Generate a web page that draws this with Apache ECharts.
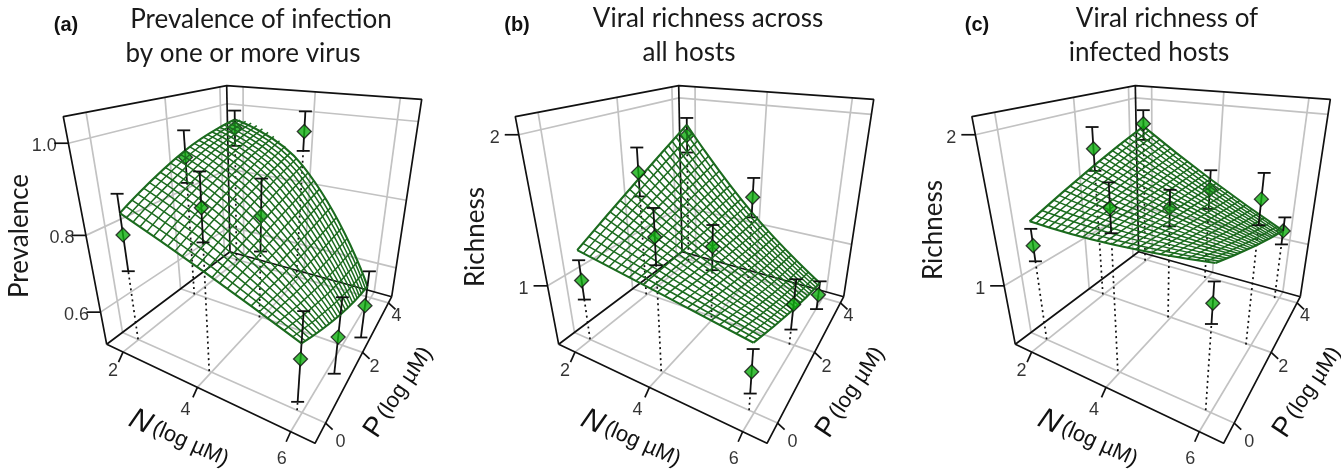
<!DOCTYPE html>
<html><head><meta charset="utf-8">
<style>html,body{margin:0;padding:0;background:#fff}#c{width:1341px;height:473px}</style>
<script src="https://cdn.jsdelivr.net/npm/echarts@6/dist/echarts.min.js"></script>
</head><body><div id="c"></div>
<script>
// --- Data ---
const nTicks = [2, 4, 6];
const pTicks = [0, 2, 4];
const nDesign = [1.985, 3.943, 5.9];
const pDesign = [0, 1.965, 3.93];
const meshN = [1.985,2.148,2.311,2.474,2.637,2.801,2.964,3.127,3.29,3.453,3.616,3.779,3.943,4.106,4.269,4.432,4.595,4.758,4.921,5.084,5.248,5.411,5.574,5.737,5.9];
const meshP = [0,.164,.328,.491,.655,.819,.983,1.146,1.31,1.474,1.638,1.801,1.965,2.129,2.293,2.456,2.62,2.784,2.948,3.111,3.275,3.439,3.603,3.766,3.93];

// points in order N2P0,N4P0,N6P0, N2P2,N4P2,N6P2, N2P4,N4P4,N6P4
const prevMean  = [.792,.900,.637,.911,.798,.528,.942,.955,.479];
const prevUpper = [.888,.970,.746,.978,.891,.642,.991,1.007,.593];
const prevLower = [.700,.828,.528,.844,.703,.413,.890,.903,.365];
const allMean   = [1.008,1.486,.806,1.578,1.128,.854,1.721,1.284,.546];
const allUpper  = [1.163,1.660,.966,1.765,1.297,1.051,1.866,1.449,.675];
const allLower  = [.855,1.305,.644,1.391,.934,.645,1.574,1.104,.403];
const infMean   = [1.270,1.660,1.262,1.756,1.426,1.609,1.819,1.351,1.127];
const infUpper  = [1.390,1.805,1.392,1.911,1.556,1.772,1.929,1.513,1.240];
const infLower  = [1.155,1.509,1.132,1.591,1.287,1.438,1.683,1.180,1.011];

// surface heights read along three sections in P (at N=2,4,6) and three in N (at P=0,2,4)
const prevN2 = [.844,.853,.861,.869,.877,.885,.892,.899,.905,.911,.917,.923,.928,.933,.938,.942,.946,.949,.953,.956,.958,.961,.963,.965,.966];
const prevN4 = [.762,.767,.772,.777,.781,.786,.791,.795,.800,.804,.809,.813,.817,.821,.826,.830,.834,.838,.842,.845,.849,.853,.857,.860,.863];
const prevN6 = [.674,.666,.659,.651,.644,.637,.630,.624,.618,.611,.605,.599,.594,.589,.583,.579,.574,.569,.565,.561,.557,.553,.550,.547,.544];
const prevP0 = [.844,.837,.831,.824,.817,.811,.804,.797,.790,.783,.776,.769,.762,.755,.748,.741,.734,.726,.719,.712,.704,.697,.690,.682,.674];
const prevP2 = [.928,.923,.917,.911,.903,.895,.886,.877,.866,.855,.843,.831,.817,.803,.788,.772,.755,.738,.719,.701,.681,.660,.639,.617,.594];
const prevP4 = [.966,.966,.964,.961,.956,.949,.941,.932,.922,.909,.895,.880,.863,.845,.825,.804,.781,.757,.730,.703,.675,.644,.612,.579,.544];

const allN2 = [1.238,1.263,1.288,1.312,1.337,1.361,1.386,1.410,1.434,1.458,1.482,1.506,1.530,1.554,1.578,1.601,1.625,1.648,1.672,1.695,1.718,1.741,1.764,1.787,1.810];
const allN4 = [1.122,1.122,1.122,1.122,1.122,1.122,1.122,1.123,1.123,1.124,1.125,1.126,1.127,1.128,1.130,1.131,1.133,1.134,1.136,1.138,1.140,1.142,1.144,1.146,1.149];
const allN6 = [1.009,.991,.973,.955,.937,.920,.903,.887,.871,.856,.840,.825,.810,.796,.782,.768,.755,.741,.729,.716,.704,.693,.681,.670,.659];
const allP0 = [1.238,1.228,1.218,1.209,1.199,1.189,1.180,1.170,1.160,1.151,1.141,1.132,1.122,1.113,1.103,1.093,1.084,1.075,1.065,1.056,1.046,1.037,1.028,1.018,1.009];
const allP2 = [1.530,1.493,1.457,1.421,1.386,1.352,1.318,1.284,1.252,1.220,1.188,1.157,1.127,1.097,1.068,1.039,1.012,.985,.958,.932,.906,.881,.857,.833,.810];
const allP4 = [1.810,1.748,1.688,1.629,1.570,1.514,1.458,1.404,1.350,1.298,1.247,1.198,1.149,1.102,1.056,1.011,.967,.924,.883,.843,.803,.766,.729,.693,.659];

const infN2 = [1.442,1.459,1.476,1.493,1.510,1.526,1.543,1.558,1.574,1.590,1.605,1.620,1.635,1.650,1.664,1.678,1.692,1.706,1.720,1.733,1.746,1.759,1.772,1.785,1.797];
const infN4 = [1.440,1.440,1.441,1.441,1.441,1.441,1.442,1.442,1.442,1.442,1.442,1.442,1.442,1.442,1.442,1.442,1.442,1.442,1.442,1.441,1.441,1.441,1.441,1.440,1.440];
const infN6 = [1.497,1.480,1.463,1.445,1.429,1.412,1.395,1.379,1.363,1.347,1.331,1.315,1.300,1.285,1.270,1.254,1.240,1.225,1.211,1.196,1.182,1.168,1.155,1.141,1.127];
const infP0 = [1.442,1.440,1.438,1.436,1.435,1.434,1.434,1.434,1.434,1.435,1.436,1.438,1.440,1.442,1.445,1.449,1.453,1.457,1.461,1.466,1.471,1.477,1.483,1.490,1.497];
const infP2 = [1.635,1.617,1.599,1.582,1.565,1.548,1.532,1.516,1.500,1.485,1.471,1.456,1.442,1.428,1.415,1.402,1.389,1.376,1.365,1.353,1.342,1.331,1.320,1.310,1.300];
const infP4 = [1.797,1.766,1.735,1.703,1.673,1.643,1.613,1.583,1.554,1.526,1.497,1.468,1.440,1.412,1.385,1.358,1.331,1.304,1.278,1.252,1.226,1.201,1.176,1.151,1.127];

// --- Panels ---
const panels = [
 {dx:0, zr:[.505,1.051], zt:[.6,.8,1], zfmt:v=>v.toFixed(1), mean:prevMean, up:prevUpper, lo:prevLower,
  alongP:[prevN2,prevN4,prevN6], alongN:[prevP0,prevP2,prevP4]},
 {dx:452, zr:[.513,2.10], zt:[1,2], zfmt:v=>String(v), mean:allMean, up:allUpper, lo:allLower,
  alongP:[allN2,allN4,allN6], alongN:[allP0,allP2,allP4]},
 {dx:908.6, zr:[.513,2.10], zt:[1,2], zfmt:v=>String(v), mean:infMean, up:infUpper, lo:infLower,
  alongP:[infN2,infN4,infN6], alongN:[infP0,infP2,infP4]}
];
const nRange=[1.5,6.45], pRange=[-0.45,4.3];

// --- Box projection (calibration of the perspective box, panel (a) frame) ---
const L=[106.7,344.3], B=[315,443.3], R=[391.7,296.7], K=[230,251.7];
const Lt=[63.3,116.7], Kt=[226.7,85.7], Rt=[421.7,99.3];
function meet(a,b,c,d){const x1=b[0]-a[0],y1=b[1]-a[1],x2=d[0]-c[0],y2=d[1]-c[1];
  const t=((c[0]-a[0])*y2-(c[1]-a[1])*x2)/(x1*y2-y1*x2);return [a[0]+t*x1,a[1]+t*y1];}
const V=meet(L,Lt,R,Rt), VN=meet(L,B,K,R), VP=meet(L,K,B,R);
const Bt=meet(Lt,VN,Rt,VP);
function homog(p0,p1,p2,p3){
  const dx1=p1[0]-p2[0],dx2=p3[0]-p2[0],sx=p0[0]-p1[0]+p2[0]-p3[0];
  const dy1=p1[1]-p2[1],dy2=p3[1]-p2[1],sy=p0[1]-p1[1]+p2[1]-p3[1];
  const D=dx1*dy2-dx2*dy1,g=(sx*dy2-dx2*sy)/D,h=(dx1*sy-sx*dy1)/D;
  const a=p1[0]-p0[0]+g*p1[0],b=p3[0]-p0[0]+h*p3[0],c=p0[0],d=p1[1]-p0[1]+g*p1[1],e=p3[1]-p0[1]+h*p3[1],f=p0[1];
  return (u,v)=>{const w=g*u+h*v+1;return [(a*u+b*v+c)/w,(d*u+e*v+f)/w];};
}
const H0=homog(L,B,R,K), H1=homog(Lt,Bt,Rt,Kt);
const dist=(a,b)=>Math.hypot(a[0]-b[0],a[1]-b[1]);
function project(pn,N,P,z){
  const u=(N-nRange[0])/(nRange[1]-nRange[0]), v=(P-pRange[0])/(pRange[1]-pRange[0]);
  const w=(z-pn.zr[0])/(pn.zr[1]-pn.zr[0]);
  const p0=H0(u,v), p1=H1(u,v), s0=dist(p0,V), s1=dist(p1,V);
  const s=1/((1-w)/s0+w/s1), f=(s-s0)/(s1-s0);
  return [p0[0]+f*(p1[0]-p0[0])+pn.dx, p0[1]+f*(p1[1]-p0[1])];
}

// --- Series ---
const series=[];
const GREY='#c2c2c2', BLACK='#111', MESH='#1b6b1e';
function line(pts,color,width,z,opt){
  series.push(Object.assign({type:'line',data:pts,showSymbol:false,silent:true,z:z,
    lineStyle:{color:color,width:width,type:(opt&&opt.dash)||'solid',cap:'butt'},
    smooth:!!(opt&&opt.smooth),animation:false}));
}
const nLo=nRange[0],nHi=nRange[1],pLo=pRange[0],pHi=pRange[1];
const offN=[[-10,19],[-12,23],[-9,27]], offP=[[15,19],[12,15],[8,13]];
const labels=[];
panels.forEach(pn=>{
  const zb=pn.zr[0], zt=pn.zr[1], pr=(a,b,c)=>project(pn,a,b,c);
  // grey grid
  nTicks.forEach(n=>{line([pr(n,pLo,zb),pr(n,pHi,zb)],GREY,1.7,1);line([pr(n,pHi,zb),pr(n,pHi,zt)],GREY,1.7,1);});
  pTicks.forEach(p=>{line([pr(nLo,p,zb),pr(nHi,p,zb)],GREY,1.7,1);line([pr(nLo,p,zb),pr(nLo,p,zt)],GREY,1.7,1);});
  pn.zt.forEach(v=>{line([pr(nLo,pLo,v),pr(nLo,pHi,v),pr(nHi,pHi,v)],GREY,1.7,1);});
  // box
  line([pr(nLo,pLo,zb),pr(nLo,pLo,zt),pr(nLo,pHi,zt),pr(nHi,pHi,zt),pr(nHi,pHi,zb)],BLACK,1.7,2);
  line([pr(nLo,pHi,zb),pr(nLo,pHi,zt)],BLACK,1.7,2);
  line([pr(nLo,pLo,zb),pr(nLo,pHi,zb),pr(nHi,pHi,zb)],BLACK,1.7,2);
  line([pr(nLo,pLo,zb),pr(nHi,pLo,zb),pr(nHi,pHi,zb)],BLACK,1.7,2);
  // ticks and tick labels
  nTicks.forEach((n,i)=>{const q=pr(n,pLo,zb);line([q,[q[0]-4.5,q[1]+10]],BLACK,1.7,2);
    labels.push([q[0]+offN[i][0],q[1]+offN[i][1],String(n)]);});
  pTicks.forEach((p,i)=>{const q=pr(nHi,p,zb);line([q,[q[0]+7,q[1]+6.5]],BLACK,1.7,2);
    labels.push([q[0]+offP[i][0],q[1]+offP[i][1],String(p)]);});
  pn.zt.forEach(v=>{const q=pr(nLo,pLo,v);line([q,[q[0]-14,q[1]]],BLACK,1.7,2);
    labels.push([q[0]-24,q[1]+3,pn.zfmt(v)]);});
  // points: dotted drop line, error bars split by the surface, diamonds
  const back=[],front=[];
  pDesign.forEach((p,ip)=>nDesign.forEach((n,in_)=>{
    const k=ip*3+in_, surf=pn.alongP[in_][ip*12], m=pn.mean[k], u=pn.up[k], l=pn.lo[k];
    if(l>zb) line([pr(n,p,zb),pr(n,p,l)],BLACK,1.7,2.5,{dash:[2,3.5]});
    const seg=(a,b,zz)=>{if(b>a) line([pr(n,p,a),pr(n,p,b)],BLACK,1.8,zz);};
    seg(l,Math.min(u,surf),2.6); seg(Math.max(l,surf),u,5);
    const cap=(v)=>{const q=pr(n,p,v);line([[q[0]-6.5,q[1]],[q[0]+6.5,q[1]]],BLACK,1.8,v>surf?5:2.6);};
    cap(u);cap(l);
    (m>surf?front:back).push(pr(n,p,m));
  }));
  [[back,2.7],[front,6]].forEach(([d,zz])=>series.push({type:'scatter',data:d,symbol:'diamond',symbolSize:[14,14],silent:true,z:zz,animation:false,
    itemStyle:{color:'#0fae0f',borderColor:'#111',borderWidth:1.3}}));
  // mesh
  meshP.forEach((p,i)=>{const e=(i===0||i===24);
    line(nDesign.map((n,k)=>pr(n,p,pn.alongP[k][i])),MESH,e?2.1:1.5,3,{smooth:true});});
  meshN.forEach((n,i)=>{const e=(i===0||i===24);
    line(pDesign.map((p,k)=>pr(n,p,pn.alongN[k][i])),MESH,e?2.1:1.5,3,{smooth:true});});
});
series.push({type:'scatter',data:labels,symbolSize:1,silent:true,z:7,animation:false,itemStyle:{color:'transparent'},
  label:{show:true,position:'inside',formatter:q=>q.value[2],color:'#000',fontFamily:'Liberation Sans',fontSize:18}});

// --- Texts ---
const T='Lato';
function txt(x,y,text,size,extra){return Object.assign({type:'text',x:x,y:y,z:10,silent:true,
  style:Object.assign({text:text,fontFamily:T,fontSize:size,fill:'#1a1a1a',align:'center',verticalAlign:'middle'},(extra&&extra.style)||{})},
  extra&&extra.rotation!==undefined?{rotation:extra.rotation}:{});}
const bold={style:{fontFamily:'Liberation Sans',fontWeight:'bold',fill:'#111'}};
const axisRich=(big,w,sz)=>({big:{fontFamily:'Liberation Sans',fontSize:sz,fontStyle:big==='N'?'italic':'normal',fontWeight:w,fill:'#111'},
  small:{fontFamily:'Liberation Sans',fontSize:22,fill:'#111'}});
const graphic=[
 txt(66,25,'(a)',20,bold),txt(517,25,'(b)',20,bold),txt(977,25,'(c)',20,bold),
 txt(261,20,'Prevalence of infection',26),txt(243,54,'by one or more virus',26),
 txt(708,19,'Viral richness across',26),txt(689,53,'all hosts',26),
 txt(1167,19,'Viral richness of',26),txt(1149,53,'infected hosts',26),
 txt(20,236,'Prevalence',26,{rotation:Math.PI/2}),
 txt(476,237,'Richness',26,{rotation:Math.PI/2}),
 txt(934,230,'Richness',26,{rotation:Math.PI/2})
];
[[179,439,399,392],[631,439,851,392],[1088,439,1308,392]].forEach(c=>{
  graphic.push({type:'text',x:c[0],y:c[1],rotation:-0.42,z:10,silent:true,style:{text:'{big|N} {small|(log µM)}',align:'center',verticalAlign:'middle',rich:axisRich('N','normal',30)}});
  graphic.push({type:'text',x:c[2],y:c[3],rotation:0.98,z:10,silent:true,style:{text:'{big|P} {small|(log µM)}',align:'center',verticalAlign:'middle',rich:axisRich('P','normal',28)}});
});

const chart=echarts.init(document.getElementById('c'),null,{renderer:'canvas'});
chart.setOption({
  backgroundColor:'#fff',animation:false,
  grid:{left:0,right:0,top:0,bottom:0},
  xAxis:{type:'value',min:0,max:1341,show:false},
  yAxis:{type:'value',min:0,max:473,inverse:true,show:false},
  series:series,graphic:graphic
});
</script></body></html>
